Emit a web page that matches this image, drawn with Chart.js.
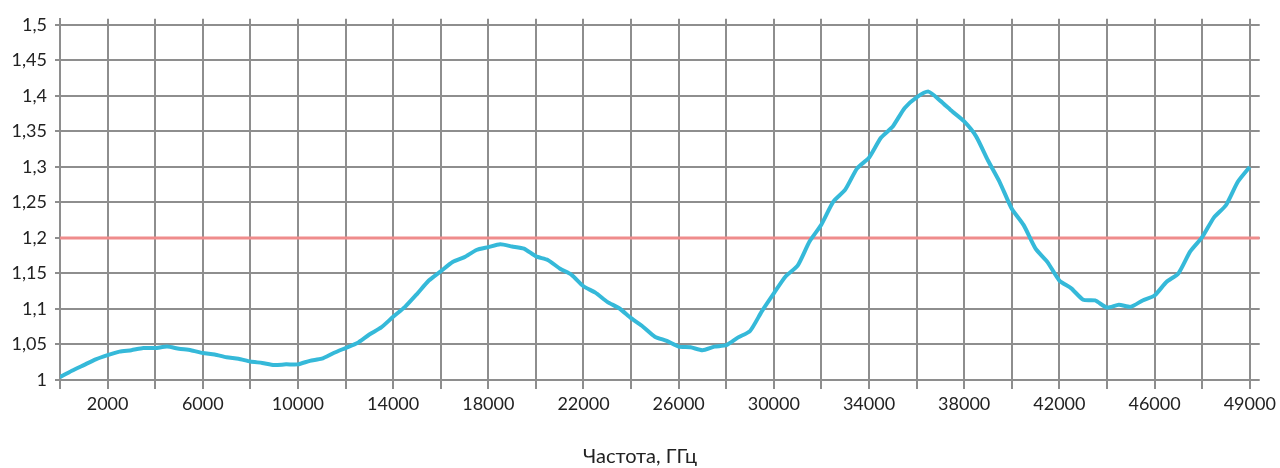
<!DOCTYPE html>
<html lang="ru">
<head>
<meta charset="utf-8">
<title>Частота, ГГц</title>
<script src="https://cdn.jsdelivr.net/npm/chart.js@4.4.1/dist/chart.umd.min.js"></script>
<style>
    html, body { margin: 0; padding: 0; background: #ffffff; }
    #wrap { width: 1280px; height: 468px; }
</style>
</head>
<body>
<div id="wrap"><canvas id="grafik"></canvas></div>
<script>
const frekuensi = [
    0, 500, 1000, 1500, 2000, 2500, 3000, 3500, 4000, 4500,
    5000, 5500, 6000, 6500, 7000, 7500, 8000, 8500, 9000, 9500,
    10000, 10500, 11000, 11500, 12000, 12500, 13000, 13500, 14000, 14500,
    15000, 15500, 16000, 16500, 17000, 17500, 18000, 18500, 19000, 19500,
    20000, 20500, 21000, 21500, 22000, 22500, 23000, 23500, 24000, 24500,
    25000, 25500, 26000, 26500, 27000, 27500, 28000, 28500, 29000, 29500,
    30000, 30500, 31000, 31500, 32000, 32500, 33000, 33500, 34000, 34500,
    35000, 35500, 36000, 36500, 37000, 37500, 38000, 38500, 39000, 39500,
    40000, 40500, 41000, 41500, 42000, 42500, 43000, 43500, 44000, 44500,
    45000, 45500, 46000, 46500, 47000, 47500, 48000, 48500, 49000, 49500,
    50000
];

const nilaiKurva = [
    1.004, 1.013, 1.021, 1.029, 1.035, 1.040, 1.042, 1.045, 1.045, 1.047,
    1.044, 1.042, 1.038, 1.036, 1.032, 1.030, 1.026, 1.024, 1.021, 1.022,
    1.022, 1.027, 1.030, 1.038, 1.045, 1.052, 1.064, 1.074, 1.089, 1.103,
    1.121, 1.140, 1.153, 1.166, 1.173, 1.183, 1.187, 1.191, 1.188, 1.185,
    1.174, 1.169, 1.157, 1.148, 1.132, 1.123, 1.110, 1.101, 1.087, 1.075,
    1.061, 1.055, 1.047, 1.046, 1.042, 1.047, 1.049, 1.060, 1.069, 1.097,
    1.122, 1.146, 1.161, 1.195, 1.219, 1.251, 1.268, 1.298, 1.313, 1.341,
    1.357, 1.383, 1.398, 1.406, 1.393, 1.378, 1.364, 1.343, 1.309, 1.278,
    1.241, 1.218, 1.185, 1.166, 1.140, 1.129, 1.113, 1.112, 1.102, 1.106,
    1.103, 1.112, 1.119, 1.138, 1.150, 1.181, 1.201, 1.229, 1.246, 1.279,
    1.300
];

// garis batas merah
const nilaiBatas = 1.2;

// garis grid vertikal tiap 2000
const gridX = [
    0, 2000, 4000, 6000, 8000, 10000, 12000, 14000, 16000, 18000, 20000, 22000, 24000,
    26000, 28000, 30000, 32000, 34000, 36000, 38000, 40000, 42000, 44000, 46000, 48000, 50000
];

// label sumbu X (posisi terakhir diberi label 49000 seperti di gambar)
const posisiLabelX = [2000, 6000, 10000, 14000, 18000, 22000, 26000, 30000, 34000, 38000, 42000, 46000, 50000];
const teksLabelX = ['2000', '6000', '10000', '14000', '18000', '22000', '26000', '30000', '34000', '38000', '42000', '46000', '49000'];

const sumbuXMin = 0;
const sumbuXMax = 50420;
const sumbuYMin = 1;
const sumbuYMax = 1.5085;

const warnaGrid = '#8e8e8e';
const warnaTeks = '#222222';

window.onload = () => {
    renderGrafik();
};

function renderGrafik() {
    const titikKurva = frekuensi.map((f, i) => ({ x: f, y: nilaiKurva[i] }));
    const titikBatas = [
        { x: sumbuXMin, y: nilaiBatas },
        { x: sumbuXMax, y: nilaiBatas }
    ];

    const ctx = document.getElementById('grafik').getContext('2d');
    new Chart(ctx, {
        type: 'line',
        data: {
            datasets: [{
                data: titikKurva,
                borderColor: '#35b9d9',
                borderWidth: 4,
                pointRadius: 0,
                tension: 0.2
            }, {
                data: titikBatas,
                borderColor: '#ef8c8c',
                borderWidth: 3,
                pointRadius: 0
            }]
        },
        options: {
            responsive: true,
            maintainAspectRatio: false,
            animation: false,
            layout: {
                padding: { top: 15, right: 0, bottom: 0, left: 0 }
            },
            plugins: {
                legend: { display: false },
                tooltip: { enabled: false },
                title: {
                    display: true,
                    position: 'bottom',
                    text: 'Частота, ГГц',
                    color: warnaTeks,
                    font: { family: 'Lato', size: 20, weight: 'normal', lineHeight: 1.1 },
                    padding: { top: 0, bottom: 0 }
                }
            },
            scales: {
                x: {
                    type: 'linear',
                    min: sumbuXMin,
                    max: sumbuXMax,
                    afterFit: (s) => { s.height = 66; },
                    afterBuildTicks: (s) => { s.ticks = gridX.map(v => ({ value: v })); },
                    border: { display: false },
                    grid: {
                        color: warnaGrid,
                        lineWidth: 2,
                        tickLength: 9,
                        tickColor: warnaGrid
                    },
                    ticks: {
                        autoSkip: false,
                        maxRotation: 0,
                        padding: 4,
                        color: warnaTeks,
                        font: { family: 'Lato', size: 18 },
                        callback: (value) => {
                            const idx = posisiLabelX.indexOf(value);
                            return idx >= 0 ? teksLabelX[idx] : '';
                        }
                    }
                },
                y: {
                    min: sumbuYMin,
                    max: sumbuYMax,
                    afterFit: (s) => { s.width = 60; },
                    border: { color: warnaGrid, width: 2 },
                    grid: {
                        color: warnaGrid,
                        lineWidth: 2,
                        tickLength: 5,
                        tickColor: warnaGrid
                    },
                    ticks: {
                        stepSize: 0.05,
                        includeBounds: false,
                        padding: 8,
                        color: warnaTeks,
                        font: { family: 'Lato', size: 18 },
                        callback: (value) => String(+value.toFixed(2)).replace('.', ',')
                    }
                },
                // sumbu kosong di kanan, hanya untuk memberi ruang 20px
                kanan: {
                    position: 'right',
                    afterFit: (s) => { s.width = 20; },
                    border: { display: false },
                    grid: { display: false },
                    ticks: { display: false }
                }
            }
        }
    });
}
</script>
</body>
</html>
